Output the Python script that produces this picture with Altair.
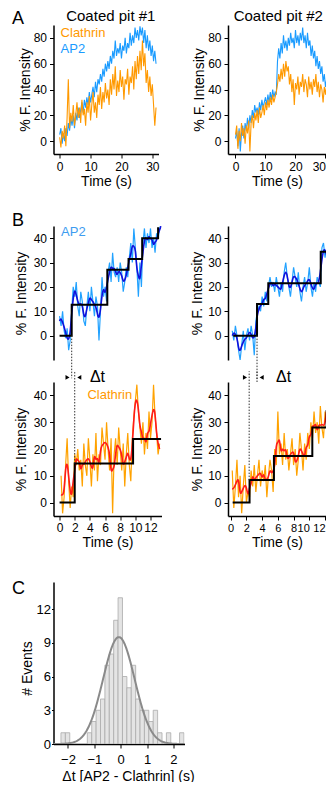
import altair as alt
import pandas as pd

FONT = "Liberation Sans"
ORANGE = "#ff9900"
BLUE = "#1a9bff"
LIGHT_BLUE = "#22a2ff"
DARK_BLUE = "#1010dc"
RED = "#ff1a1a"
RAW_ORANGE = "#ffa200"

# ---------------- Panel A data (sampling every 0.4 s) ----------------
A_STEP = 0.4
a1_clathrin = [3, -5, 8, 2, 12, -4, 18, 48, 10, 22, 15, 28, 12, 20, 30, 18, 26, 14, 32, 20,
               25, 12, 30, 22, 35, 16, 28, 38, 22, 30, 18, 36, 28, 42, 25, 38, 30, 45, 33, 40,
               28, 48, 36, 52, 40, 58, 35, 47, 38, 55, 42, 50, 32, 48, 44, 56, 36, 50, 45, 58,
               40, 62, 48, 66, 52, 70, 55, 78, 58, 68, 45, 55, 38, 50, 35, 44, 28, 12, 26]
a1_ap2 = [5, 10, -2, 6, 0, 10, 4, 14, 8, 18, 12, 20, 10, 22, 16, 26, 18, 24, 30, 22,
          32, 26, 34, 28, 38, 30, 36, 42, 34, 46, 38, 48, 44, 52, 46, 56, 50, 60, 54, 62,
          56, 66, 60, 70, 64, 78, 66, 72, 68, 76, 64, 74, 70, 80, 68, 76, 72, 84, 74, 82,
          76, 88, 80, 86, 78, 89, 82, 88, 76, 86, 72, 82, 70, 78, 66, 74, 62, 70, 60]
a2_clathrin = [5, 12, -6, 8, 0, 14, 4, 10, -2, 12, 6, 16, -8, 14, 20, 10, 22, 16, 24, 14,
               26, 18, 22, 28, 20, 30, 24, 32, 26, 34, 28, 36, 30, 34, 38, 44, 52, 46, 56, 48,
               60, 50, 62, 54, 58, 44, 52, 38, 48, 28, 45, 40, 50, 36, 46, 42, 52, 38, 48, 44,
               34, 50, 40, 46, 36, 48, 42, 52, 38, 46, 34, 44, 40, 30, 42, 36, 44, 32, 40, 38, 42]
a2_ap2 = [2, 8, -4, 10, -8, 6, 12, 2, 14, 8, 18, 10, 20, 14, 24, 18, 28, 22, 26, 20,
          30, 24, 32, 26, 30, 34, 28, 36, 30, 38, 32, 40, 34, 38, 36, 62, 72, 64, 76, 68,
          82, 72, 78, 70, 80, 74, 84, 76, 80, 72, 86, 76, 82, 74, 84, 78, 88, 76, 82, 72,
          84, 74, 78, 66, 74, 64, 70, 58, 66, 56, 62, 52, 58, 46, 52, 42, 48, 40, 46, 44, 40]

# ---------------- Panel B data (sampling every 0.2 s) ----------------
B_STEP = 0.2
b1_ap2_start = 0.0
b1_ap2 = [8, 4, 10, 2, -1, 3, -6, -2, 10, 20, 16, 22, 12, 8, 18, 14, 6, 4, 12, 18,
          10, 20, 14, 8, 16, 12, -2, 10, 24, 16, 20, 14, 26, 30, 22, 34, 26, 24, 28, 22,
          30, 26, 18, 22, 28, 24, 32, 38, 30, 44, 36, 28, 16, 30, 20, 38, 44, 36, 42, 38,
          44, 36, 40, 34, 42, 40, 44, 46]
b1_clath_start = 0.2
b1_clathrin = [10, -4, 2, 14, 24, 8, -2, 6, 2, 18, 14, 20, 12, 16, 6, 22, 14, 10, 24, 16,
               6, 18, 12, 26, 8, 18, 14, 28, 22, 16, 30, 20, 12, 24, -4, 18, 24, 14, 28, 20,
               12, 22, 6, 18, 26, 14, 8, 24, 32, 38, 44, 34, 28, 22, 30, 18, 26, 20, 34, 24,
               30, 44, 32, 26, 18, 22]
b2_ap2_start = 0.2
b2_ap2 = [2, -2, 4, 0, -6, -10, -4, 2, -6, 0, 3, -2, 4, 0, -8, 6, 10, 12, 10, 16,
          12, 18, 14, 20, 24, 20, 22, 18, 24, 20, 16, 22, 18, 26, 30, 24, 20, 16, 22, 28,
          24, 20, 26, 18, 14, 20, 24, 18, 22, 28, 20, 16, 22, 18, 24, 22, 20, 36, 38, 32,
          36, 30, 34]
b2_clath_start = 0.2
b2_clathrin = [12, -2, 6, 16, 2, 10, -4, 6, 14, 0, 4, 2, 12, 6, 14, 4, 10, 16, 6, 12,
               8, 14, 2, 10, 16, 12, 4, 20, 14, 34, 18, 22, 14, 26, 16, 20, 12, 18, 24, 14,
               20, 10, 16, 26, 20, 12, 22, 16, 26, 20, 30, 24, 34, 26, 30, 22, 36, 28, 24,
               34, 30, 40, 36]

# step fits: change times and levels
b1_step_t = [0.0, 1.6, 6.3, 9.1, 10.9, 13.0]
b1_step_v = [0.0, 12.7, 27.0, 31.5, 40.0, 44.5]
b1c_step_t = [0.0, 2.0, 9.7, 13.4]
b1c_step_v = [0.0, 14.6, 23.7, 23.7]
b2_step_t = [0.33, 3.35, 4.78, 11.45, 12.7]
b2_step_v = [0.0, 13.0, 21.5, 34.4, 34.4]
b2c_step_t = [0.25, 2.4, 5.5, 10.38, 12.2, 12.7]
b2c_step_v = [0.0, 8.4, 17.4, 28.0, 34.2, 34.2]

# ---------------- Panel C data ----------------
BIN_W = 1 / 6
hist_left = [-2.267, -2.1, -1.267, -1.1, -0.933, -0.767, -0.6, -0.433, -0.267, -0.1,
             0.067, 0.233, 0.4, 0.567, 0.733, 0.9, 1.067, 1.233, 1.4, 1.733, 2.233]
hist_count = [1, 1, 1, 2, 3, 4, 7, 8, 11, 13, 6, 5, 7, 4, 3, 3, 2, 3, 1, 1, 1]
G_AMP, G_MU, G_SIG = 9.5, -0.07, 0.6

# tick values
A_XTICKS = [0, 10, 20, 30]
A_YTICKS = [0, 20, 40, 60, 80]
B_XTICKS = [0, 2, 4, 6, 8, 10, 12]
B_YTICKS = [0, 10, 20, 30, 40]
C_XTICKS = [-2, -1, 0, 1, 2]
C_YTICKS = [0, 3, 6, 9, 12]

# ---------------- layout sizes ----------------
A1_W, A2_W, A_H = 105, 98, 129
B1_W, B2_W, B_H = 108, 98, 134
C_W, C_H = 131, 162


def series_df(start, step, values, name):
    return pd.DataFrame({"t": [round(start + i * step, 2) for i in range(len(values))],
                         "v": values, "series": name})


def letter(s, y):
    return alt.Chart(pd.DataFrame({"s": [s]})).mark_text(
        font=FONT, fontSize=18, align="left", baseline="top", color="black"
    ).encode(text="s:N", x=alt.value(-41.5), y=alt.value(y))


def heading(s, x):
    return alt.Chart(pd.DataFrame({"s": [s]})).mark_text(
        font=FONT, fontSize=15, align="center", baseline="alphabetic", color="black"
    ).encode(text="s:N", x=alt.value(x), y=alt.value(-4))


def label(t, v, s, color, size=13):
    return alt.Chart(pd.DataFrame({"t": [t], "v": [v], "s": [s]})).mark_text(
        font=FONT, fontSize=size, align="left", baseline="alphabetic", color=color
    ).encode(x="t:Q", y="v:Q", text="s:N")


def end_align(threshold):
    # tick labels at the right edge of the page are right-aligned so they stay visible
    return {"condition": {"test": f"datum.value >= {threshold}", "value": "right"},
            "value": "center"}


def panel_a(ap2, clath, xdom, width, ytx, extra, flush_from=None):
    df = pd.concat([series_df(0, A_STEP, ap2, "AP2"), series_df(0, A_STEP, clath, "Clathrin")])
    axis_kw = {}
    if flush_from is not None:
        axis_kw["labelAlign"] = end_align(flush_from)
    xs = alt.X("t:Q", scale=alt.Scale(domain=xdom, nice=False, zero=False),
               axis=alt.Axis(values=A_XTICKS, tickCount=len(A_XTICKS), title="Time (s)",
                             titleX=width / 2, titleY=31.5, titleBaseline="alphabetic",
                             **axis_kw))
    ys = alt.Y("v:Q", scale=alt.Scale(domain=[-10, 90], nice=False, zero=False),
               axis=alt.Axis(values=A_YTICKS, tickCount=len(A_YTICKS), title="% F. Intensity",
                             titleX=ytx, titleY=A_H / 2, titleBaseline="alphabetic"))
    base = alt.Chart(df)
    l1 = base.transform_filter(alt.datum.series == "AP2").mark_line(
        color=BLUE, strokeWidth=1.1, clip=True).encode(x=xs, y=ys)
    l2 = base.transform_filter(alt.datum.series == "Clathrin").mark_line(
        color=ORANGE, strokeWidth=1.1, clip=True).encode(x="t:Q", y="v:Q")
    return alt.layer(l1, l2, *extra).properties(width=width, height=A_H)


def panel_b(raw_start, raw, raw_color, sm_color, st_t, st_v, xdom, width, ydom,
            show_x, ytx, extra, flush_from=None, xlabel_size=12):
    df = series_df(raw_start, B_STEP, raw, "raw")
    if show_x:
        axis_kw = {}
        if flush_from is not None:
            axis_kw["labelAlign"] = end_align(flush_from)
        xaxis = alt.Axis(values=B_XTICKS, tickCount=len(B_XTICKS), title="Time (s)",
                         titleX=width / 2, titleY=30, titleBaseline="alphabetic",
                         labelFontSize=xlabel_size, labelPadding=2, **axis_kw)
    else:
        xaxis = None
    xs = alt.X("t:Q", scale=alt.Scale(domain=xdom, nice=False, zero=False), axis=xaxis)
    ys = alt.Y("v:Q", scale=alt.Scale(domain=ydom, nice=False, zero=False),
               axis=alt.Axis(values=B_YTICKS, tickCount=len(B_YTICKS), title="% F. Intensity",
                             titleX=ytx, titleY=B_H / 2, titleBaseline="alphabetic"))
    base = alt.Chart(df)
    rawl = base.mark_line(color=raw_color, strokeWidth=1.2, clip=True).encode(x=xs, y=ys)
    sm = base.transform_window(sm="mean(v)", frame=[-1, 1], sort=[alt.SortField("t")]).mark_line(
        color=sm_color, strokeWidth=1.6, interpolate="basis", clip=True).encode(x="t:Q", y="sm:Q")
    steps = alt.Chart(pd.DataFrame({"t": st_t, "v": st_v})).mark_line(
        color="black", strokeWidth=2, interpolate="step-after", clip=True).encode(x="t:Q", y="v:Q")
    return alt.layer(rawl, sm, steps, *extra).properties(width=width, height=B_H)


def dotted(t, v0, v1):
    return alt.Chart(pd.DataFrame({"t": [t], "v": [v0], "v2": [v1]})).mark_rule(
        color="#333333", strokeWidth=1, strokeDash=[1.5, 1.5]).encode(x="t:Q", y="v:Q", y2="v2:Q")


def arrows(t_left, t_right, v):
    df = pd.DataFrame({"t": [t_left, t_right], "v": [v, v],
                       "shape": ["triangle-right", "triangle-left"]})
    return alt.Chart(df).mark_point(filled=True, color="black", size=22, opacity=1).encode(
        x="t:Q", y="v:Q", shape=alt.Shape("shape:N", scale=None))


def delta_t(t, v):
    return alt.Chart(pd.DataFrame({"t": [t], "v": [v], "s": ["Δt"]})).mark_text(
        font=FONT, fontSize=16, align="left", baseline="middle", color="black"
    ).encode(x="t:Q", y="v:Q", text="s:N")


# ---------------- Panel A ----------------
A1 = panel_a(a1_ap2, a1_clathrin, [-2, 32], A1_W, -24,
             [label(0.3, 81, "Clathrin", ORANGE), label(0.3, 68.5, "AP2", BLUE),
              letter("A", -14.6), heading("Coated pit #1", 57.3)])
A2 = panel_a(a2_ap2, a2_clathrin, [-2.5, 30.17], A2_W, -25,
             [heading("Coated pit #2", 50.3)], flush_from=30)

# ---------------- Panel B ----------------
B2_DOM = [-0.34, 12.12]
B1t = panel_b(b1_ap2_start, b1_ap2, LIGHT_BLUE, DARK_BLUE, b1_step_t, b1_step_v,
              [-0.8, 13.45], B1_W, [-10, 45], False, -28,
              [dotted(1.6, 0, -17.5), label(0.2, 40.9, "AP2", "#3d9cf0"), letter("B", -14)])
B1b = panel_b(b1_clath_start, b1_clathrin, RAW_ORANGE, RED, b1c_step_t, b1c_step_v,
              [-0.8, 13.45], B1_W, [-5, 45], True, -28,
              [dotted(2.0, 14.6, 49), arrows(1.05, 2.6, 46.7),
               label(3.67, 38.8, "Clathrin", ORANGE), delta_t(4.0, 46.7)])
B2t = panel_b(b2_ap2_start, b2_ap2, LIGHT_BLUE, DARK_BLUE, b2_step_t, b2_step_v,
              B2_DOM, B2_W, [-10, 45], False, -27,
              [dotted(3.35, 0, -18)])
B2b = panel_b(b2_clath_start, b2_clathrin, RAW_ORANGE, RED, b2c_step_t, b2c_step_v,
              B2_DOM, B2_W, [-5, 45], True, -27,
              [dotted(2.35, 8.4, 49), dotted(3.35, 45, 49), arrows(1.82, 3.94, 46.7),
               delta_t(5.76, 46.7)], flush_from=10, xlabel_size=11)

# ---------------- Panel C ----------------
hist_df = pd.DataFrame({"x0": hist_left, "x1": [round(l + BIN_W, 3) for l in hist_left],
                        "n": hist_count})
cx = alt.X("x0:Q", scale=alt.Scale(domain=[-2.55, 2.42], nice=False, zero=False),
           axis=alt.Axis(values=C_XTICKS, tickCount=len(C_XTICKS),
                         title="Δt [AP2 - Clathrin] (s)",
                         titleX=C_W / 2 + 9, titleY=36, titleBaseline="alphabetic",
                         labelFontSize=13, labelPadding=5))
cy = alt.Y("n:Q", scale=alt.Scale(domain=[0, 14.4], nice=False, zero=False),
           axis=alt.Axis(values=C_YTICKS, tickCount=len(C_YTICKS), title="# Events",
                         titleX=-22, titleY=86, titleBaseline="alphabetic",
                         labelFontSize=13, tickSize=2, labelPadding=1))
bars = alt.Chart(hist_df).mark_bar(color="#e4e4e4", stroke="#ababab", strokeWidth=0.8,
                                   clip=True).encode(x=cx, x2="x1:Q", y=cy, y2=alt.datum(0))
gauss = alt.Chart(alt.sequence(-2.6, 2.45, 0.02, as_="x0")).transform_calculate(
    n=f"{G_AMP}*exp(-pow(datum.x0-({G_MU}),2)/(2*{G_SIG}*{G_SIG}))"
).mark_line(color="#8a8a8a", strokeWidth=2, clip=True).encode(x="x0:Q", y="n:Q")
C = alt.layer(bars, gauss, letter("C", -1.6)).properties(width=C_W, height=C_H)


def spacer(h):
    return alt.Chart(pd.DataFrame({"z": [0]})).mark_point(opacity=0, size=1).encode(
        x=alt.value(0), y=alt.value(0)).properties(width=10, height=h)


# page: 334 x 790 with 8px body margin -> drawing surface 318 x 774
chart = alt.concat(
    A1, A2, spacer(28), spacer(28), B1t, B2t, B1b, B2b, spacer(22), spacer(22), C,
    columns=2, spacing={"row": 22, "column": 43.5}, bounds="flush", align="each"
).properties(
    autosize=alt.AutoSizeParams(type="none"),
    padding={"left": 45.5, "top": 17, "right": 272.5, "bottom": 757}
).configure_axis(
    labelFont=FONT, titleFont=FONT, labelFontSize=12, titleFontSize=14,
    titleFontWeight="normal", labelColor="black", titleColor="black",
    domainColor="black", tickColor="black", domainWidth=1.5, tickWidth=1,
    tickSize=4, labelPadding=3, grid=False, labelFlush=False, labelOverlap=False
).configure_view(stroke=None)

chart.save("out.html", embed_options={"renderer": "svg", "actions": False})
